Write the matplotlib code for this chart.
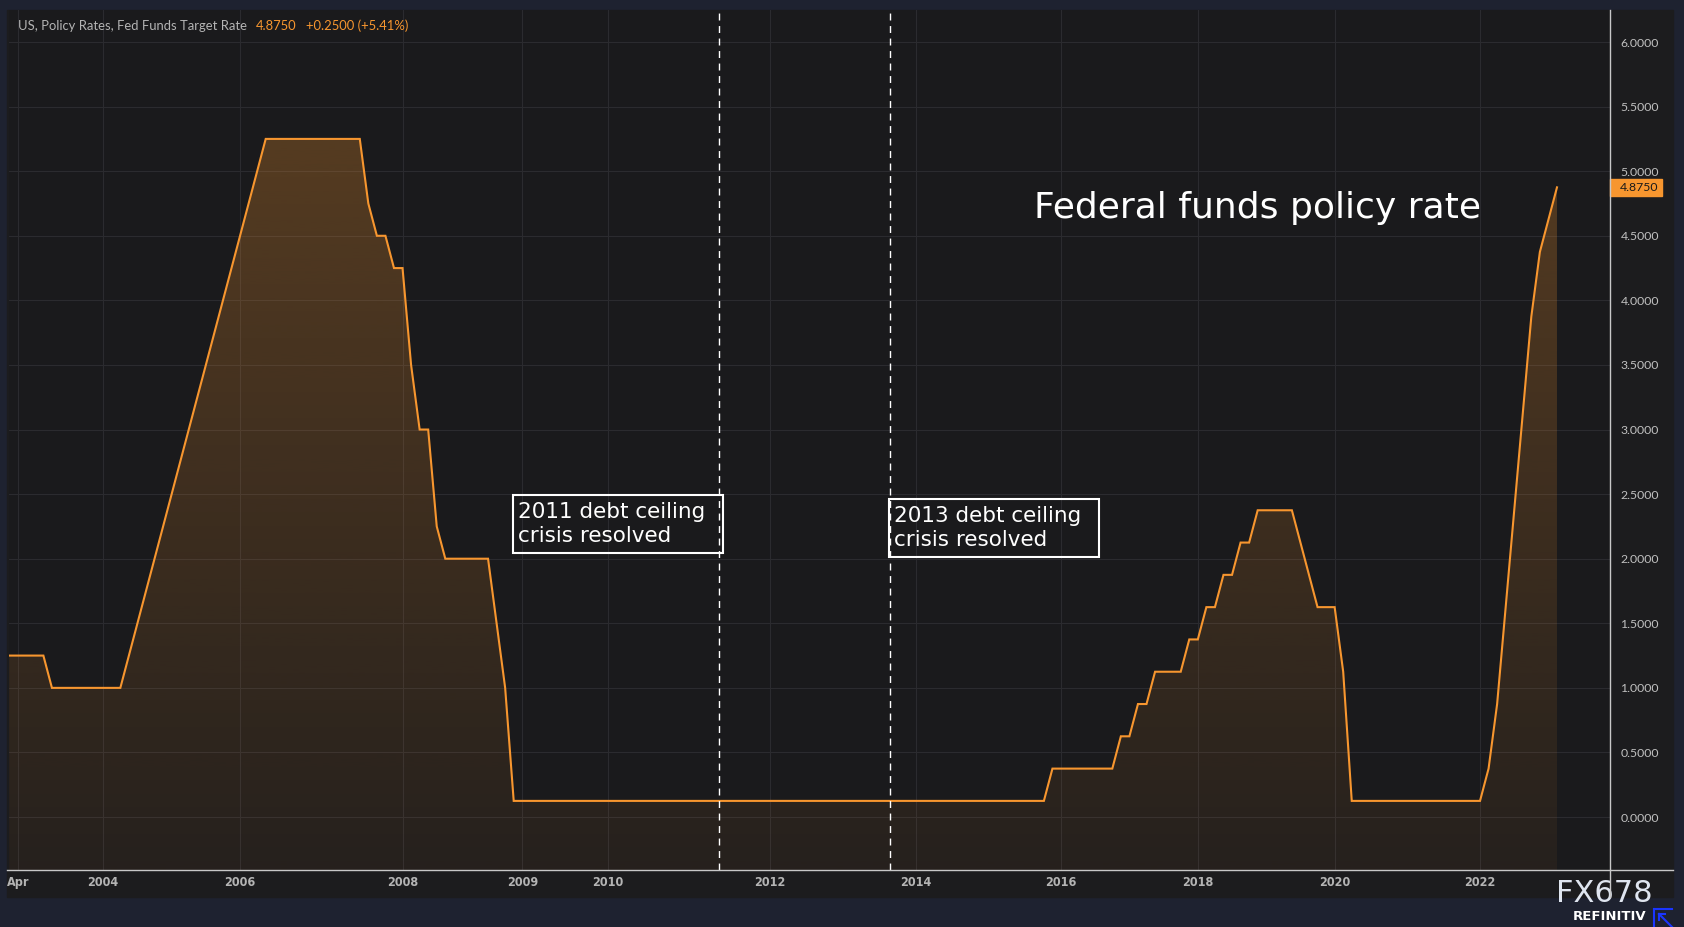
import numpy as np
import matplotlib
matplotlib.use('Agg')
import matplotlib.pyplot as plt
from matplotlib.lines import Line2D
from matplotlib.patches import Rectangle
from matplotlib.transforms import blended_transform_factory
from matplotlib.ticker import FuncFormatter

# Fed funds target rate, one value per observation bar, stored as runs:
# rate level and the number of consecutive bars at that level
rate_levels = [1.25, 1.0,
               1.25, 1.5, 1.75, 2.0, 2.25, 2.5, 2.75, 3.0,
               3.25, 3.5, 3.75, 4.0, 4.25, 4.5, 4.75, 5.0,
               5.25, 4.75, 4.5, 4.25, 3.5, 3.0, 2.25, 2.0, 1.5, 1.0,
               0.125, 0.375, 0.625, 0.875, 1.125, 1.375, 1.625, 1.875, 2.125, 2.375,
               2.125, 1.875, 1.625, 1.125, 0.125,
               0.375, 0.875, 1.625, 2.375, 3.125, 3.875, 4.375, 4.625, 4.875]
bars_at_level = [5, 9,
                 1, 1, 1, 1, 1, 1, 1, 1,
                 1, 1, 1, 1, 1, 1, 1, 1,
                 12, 1, 2, 2, 1, 2, 1, 6, 1, 1,
                 63, 8, 2, 2, 4, 2, 2, 2, 2, 5,
                 1, 1, 3, 1, 16,
                 1, 1, 1, 1, 1, 1, 1, 1, 1]

# first bar of each labelled period on the time axis
tick_bars = [1, 11, 27, 46, 60, 70, 89, 106, 123, 139, 155, 172]
tick_labels = ['Apr', '2004', '2006', '2008', '2009', '2010', '2012',
               '2014', '2016', '2018', '2020', '2022']

event_bars = [83, 103]
event_labels = ['2011 debt ceiling\ncrisis resolved', '2013 debt ceiling\ncrisis resolved']

y_ticks = [0.0, 0.5, 1.0, 1.5, 2.0, 2.5, 3.0, 3.5, 4.0, 4.5, 5.0, 5.5, 6.0]
series_name = 'US, Policy Rates, Fed Funds Target Rate'
chart_title = 'Federal funds policy rate'

rates = np.repeat(rate_levels, bars_at_level)
bars = np.arange(len(rates))
last = rates[-1]
change = rates[-1] - rates[-2]
pct = change / rates[-2] * 100

W, H = 1684, 927
ORANGE = '#f7962f'
GRID = '#2b2b2f'
AXLINE = '#c8c8c8'

plt.rcParams['font.family'] = ['Lato', 'DejaVu Sans']


def fx(px):
    return px / W


def fy(py):
    return 1 - py / H


fig = plt.figure(figsize=(W / 100, H / 100), dpi=100, facecolor='#1e2230')
fig.add_artist(Rectangle((fx(7), fy(897)), (1673 - 7) / W, (897 - 10) / H,
                         transform=fig.transFigure, color='#1c1c1e', zorder=0))

ax = fig.add_axes([fx(9), fy(870), (1610 - 9) / W, (870 - 10) / H])
ax.set_facecolor('#1a1a1c')
xlim = (-0.02, 187.2)
ylim = (-0.41, 6.248)

# area fill with vertical gradient, clipped to the area under the line
fill = ax.fill_between(bars, rates, ylim[0], facecolor='none', edgecolor='none')
grad_y = np.linspace(ylim[0], ylim[1], 256)
rgba = np.zeros((256, 1, 4))
rgba[..., :3] = matplotlib.colors.to_rgb(ORANGE)
rgba[:, 0, 3] = np.clip(0.072 + 0.0377 * grad_y, 0.04, 1)
img = ax.imshow(rgba, extent=(bars[0], bars[-1], ylim[0], ylim[1]), origin='lower',
                aspect='auto', interpolation='bilinear', zorder=1)
img.set_clip_path(fill.get_paths()[0], transform=ax.transData)

ax.plot(bars, rates, color=ORANGE, lw=1.5, zorder=3, solid_joinstyle='miter')

for b in event_bars:
    ax.axvline(b, color='white', lw=1.0, ls=(0, (5, 4)), zorder=4)

ax.set_xlim(*xlim)
ax.set_ylim(*ylim)

ax.set_xticks(tick_bars, tick_labels)
ax.set_yticks(y_ticks)
ax.yaxis.tick_right()
ax.yaxis.set_major_formatter(FuncFormatter(lambda v, p: f'{v:.4f}'))
ax.grid(True, color=GRID, lw=0.8)
ax.set_axisbelow(True)
ax.tick_params(axis='x', length=0, pad=4.5, labelsize=9, labelcolor='#b4b4b4')
ax.tick_params(axis='y', length=0, pad=7.5, labelsize=8.8, labelcolor='#c0c0c0')
for lbl in ax.get_xticklabels():
    lbl.set_fontfamily(['DejaVu Sans'])
    lbl.set_fontweight('bold')
    lbl.set_fontstretch('condensed')
for s in ax.spines.values():
    s.set_visible(False)

# axis lines spanning the whole panel
fig.add_artist(Line2D([fx(7), fx(1673)], [fy(870), fy(870)], color=AXLINE, lw=1.0,
                      transform=fig.transFigure, zorder=5))
fig.add_artist(Line2D([fx(1610), fx(1610)], [fy(10), fy(897)], color=AXLINE, lw=1.0,
                      transform=fig.transFigure, zorder=5))

# annotation boxes next to the event lines
box_left = [event_bars[0] - 24.1, event_bars[1] - 0.1]
box_top = [2.493, 2.462]
for left, top, text in zip(box_left, box_top, event_labels):
    ax.add_patch(Rectangle((left, top - 0.449), 24.6, 0.449, fill=False,
                           edgecolor='white', lw=1.5, zorder=5))
    for k, line in enumerate(text.split('\n')):
        ax.text(left + 0.6, top - 0.132 - k * 0.186, line, color='white',
                fontsize=15.5, family=['DejaVu Sans'], va='center', ha='left', zorder=6)

ax.text(119.9, 4.637, chart_title, color='white', fontsize=26,
        family=['DejaVu Sans'], va='baseline', ha='left', zorder=6)

# last value tag on the price scale
tr = blended_transform_factory(ax.transAxes, ax.transData)
ax.add_patch(Rectangle((1.0, last - 0.066), 52 / 1601, 0.132, transform=tr,
                       color=ORANGE, clip_on=False, zorder=6))
ax.text(1.0 + 10 / 1601, last, f'{last:.4f}', transform=tr, color='#1a1a1a',
        fontsize=8.8, va='center', ha='left', zorder=7, clip_on=False)

# header legend
t1 = fig.text(fx(18), fy(26), series_name, fontsize=9.4, color='#b4b4b4', va='center')
a2 = ax.annotate(f'{last:.4f}', xy=(1, 0.5), xycoords=t1, xytext=(6.5, 0),
                 textcoords='offset points', fontsize=9.4, color=ORANGE, va='center')
ax.annotate(f'{change:+.4f} ({pct:+.2f}%)', xy=(1, 0.5), xycoords=a2, xytext=(6.5, 0),
            textcoords='offset points', fontsize=9.4, color=ORANGE, va='center')

# branding
fig.text(fx(1556), fy(902), 'FX678', fontsize=22, color='#dfe5ef',
         family=['DejaVu Sans'], va='baseline', ha='left')
fig.text(fx(1573), fy(917), 'REFINITIV', fontsize=9.5, weight='bold', color='white',
         family=['DejaVu Sans'], va='center', ha='left')
BLUE = '#1a35ff'
for xs, ys in [([1654, 1654], [909, 927]), ([1654, 1672], [909, 909]),
               ([1659, 1672], [914, 927]), ([1659, 1659], [914, 920]),
               ([1659, 1665], [914, 914])]:
    fig.add_artist(Line2D([fx(v) for v in xs], [fy(v) for v in ys], color=BLUE, lw=1.5,
                          transform=fig.transFigure))

fig.savefig('out.png', dpi=100, facecolor=fig.get_facecolor())
